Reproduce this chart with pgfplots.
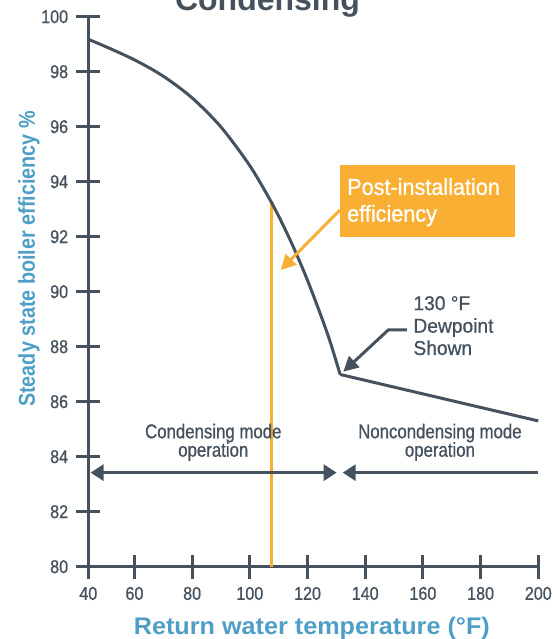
\documentclass[border=0pt]{standalone}
\usepackage{pgfplots}
\pgfplotsset{compat=1.18}
\usetikzlibrary{arrows.meta}
\usepackage{fontspec}
\setmainfont{Liberation Sans}
\newfontfamily\tickfont{Liberation Sans}[FakeStretch=0.87, FakeBold=0.8]
\newfontfamily\condfont{Liberation Sans}[FakeStretch=0.84, FakeBold=0.8]
\newfontfamily\dewfont{Liberation Sans}[FakeStretch=0.96, FakeBold=0.8]
\newfontfamily\postfont{Liberation Sans}[FakeStretch=0.94, FakeBold=0.8]
\newfontfamily\xlabfont{Liberation Sans}[FakeStretch=1.05]
\newfontfamily\ylabfont{Liberation Sans}[FakeStretch=0.86]
\definecolor{dark}{RGB}{69,82,94}
\definecolor{bluel}{RGB}{79,158,198}
\definecolor{orangec}{RGB}{249,175,51}
\begin{document}
\begin{tikzpicture}
\begin{axis}[
  scale only axis, width=450pt, height=550pt,
  at={(88.3pt,72.3pt)}, anchor=south west,
  xmin=44, xmax=200, ymin=80, ymax=100,
  axis lines=left,
  axis line style={-, line width=3pt, draw=dark},
  x axis line style={shorten <=-12pt},
  y axis line style={shorten <=-12pt},
  xtick={44,60,80,100,120,140,160,180,200},
  xticklabels={40,60,80,100,120,140,160,180,200},
  ytick={80,82,84,86,88,90,92,94,96,98,100},
  tick align=center, major tick length=24pt,
  tick style={draw=dark, line width=3pt},
  tick label style={font=\tickfont\fontsize{18.5}{18.5}\selectfont, text=dark, inner sep=0pt},
  xticklabel style={yshift=-8pt},
  yticklabel style={xshift=-8pt},
  /pgf/number format/assume math mode=true,
  clip=false,
]
% orange vertical line
\addplot[orangec, line width=3pt] coordinates {(107.6,80) (107.6,93.23)};
% efficiency curve (condensing part)
\addplot[dark, line width=3pt, smooth, tension=0.5] coordinates {
  (44,99.178) (50,98.912) (60,98.431) (70,97.835) (80,97.046)
  (90,95.987) (100,94.580) (107.6,93.230) (110,92.747) (115,91.647)
  (120,90.411) (125,89.030) (128,88.128) (131.3,86.99)};
% noncondensing part
\addplot[dark, line width=3pt] coordinates {(131.3,86.99) (200,85.3)};

% orange box
\fill[orangec] (axis cs:131.2,92.0) rectangle (axis cs:191.9,94.61);
\node[anchor=base west, inner sep=0pt, text=white, font=\postfont\fontsize{23}{23}\selectfont] at (axis cs:133.7,93.52) {Post-installation};
\node[anchor=base west, inner sep=0pt, text=white, font=\postfont\fontsize{23}{23}\selectfont] at (axis cs:133.7,92.55) {efficiency};
\draw[orangec, line width=3pt, -{Triangle[length=15pt,width=15pt]}] (axis cs:131.2,92.97) -- (axis cs:110.7,90.79);

% dewpoint annotation
\node[anchor=base west, inner sep=0pt, text=dark, font=\dewfont\fontsize{20}{20}\selectfont] at (axis cs:156.65,89.33) {130 \textdegree F};
\node[anchor=base west, inner sep=0pt, text=dark, font=\dewfont\fontsize{20}{20}\selectfont] at (axis cs:156.65,88.51) {Dewpoint};
\node[anchor=base west, inner sep=0pt, text=dark, font=\dewfont\fontsize{20}{20}\selectfont] at (axis cs:156.65,87.70) {Shown};
\draw[dark, line width=3pt, -{Triangle[length=15pt,width=15pt]}] (axis cs:154.4,88.61) -- (axis cs:148.0,88.61) -- (axis cs:132.4,87.09);

% mode annotations
\node[anchor=base, inner sep=0pt, text=dark, font=\condfont\fontsize{20}{20}\selectfont] at (axis cs:87.33,84.67) {Condensing mode};
\node[anchor=base, inner sep=0pt, text=dark, font=\condfont\fontsize{20}{20}\selectfont] at (axis cs:87.33,84.0) {operation};
\node[anchor=base, inner sep=0pt, text=dark, font=\condfont\fontsize{20}{20}\selectfont] at (axis cs:165.9,84.67) {Noncondensing mode};
\node[anchor=base, inner sep=0pt, text=dark, font=\condfont\fontsize{20}{20}\selectfont] at (axis cs:165.9,84.0) {operation};
\draw[dark, line width=3pt, {Triangle[length=13pt,width=16pt]}-{Triangle[length=13pt,width=16pt]}] (axis cs:44.8,83.42) -- (axis cs:130.1,83.42);
\draw[dark, line width=3pt, {Triangle[length=13pt,width=16pt]}-] (axis cs:132.2,83.42) -- (axis cs:200,83.42);

% axis labels
\node[anchor=base, inner sep=0pt, text=bluel, font=\xlabfont\bfseries\fontsize{24}{24}\selectfont] at (axis cs:121.5,77.55) {Return water temperature (\textdegree F)};
\node[anchor=base, rotate=90, inner sep=0pt, text=bluel, font=\ylabfont\bfseries\fontsize{23}{23}\selectfont] at (axis cs:25.5,91.19) {Steady state boiler efficiency \%};
\end{axis}
\node[anchor=base, inner sep=0pt, text=dark, font=\bfseries\fontsize{32}{32}\selectfont] at (267.5pt,628.5pt) {Condensing};
\pgfresetboundingbox
\useasboundingbox (0pt,0pt) rectangle (554pt,639pt);
\end{tikzpicture}
\end{document}
